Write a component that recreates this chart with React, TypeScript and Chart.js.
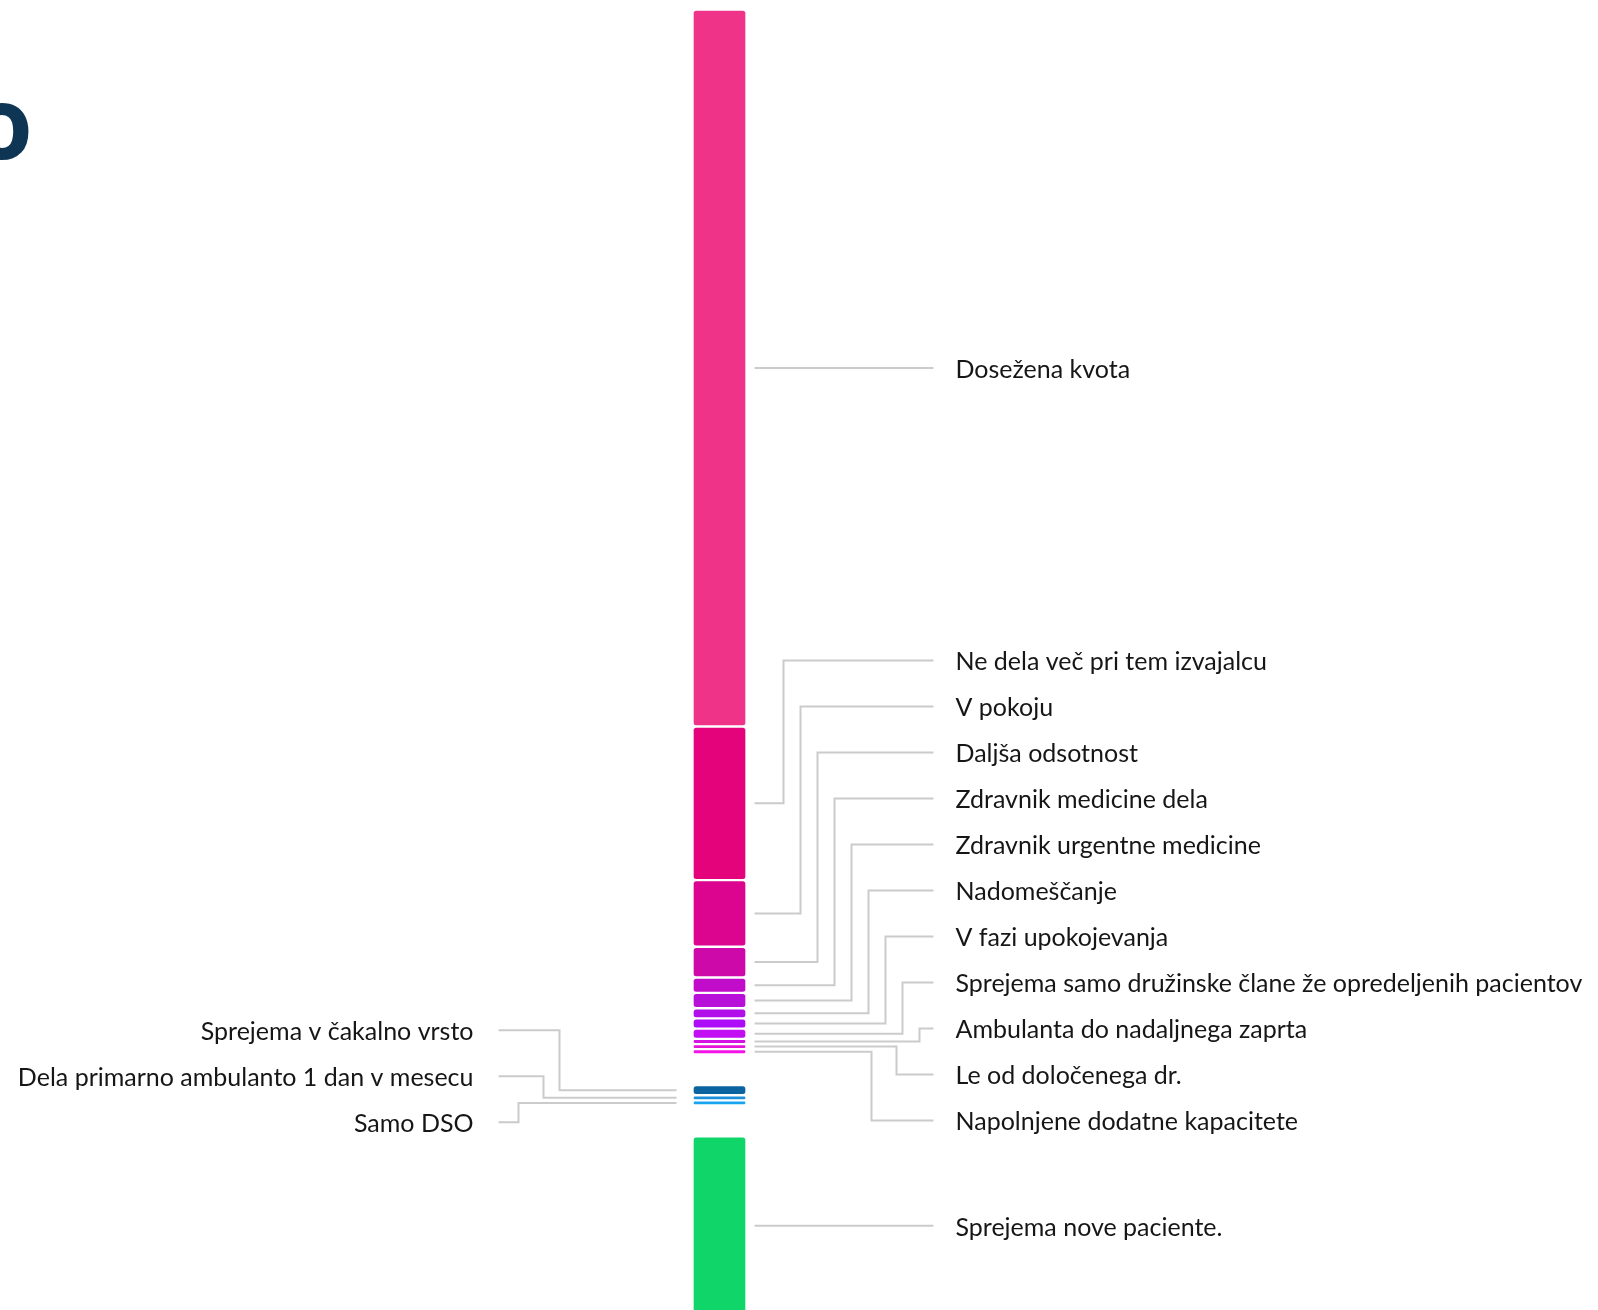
import React, { useEffect, useRef } from 'react';
import { Chart, registerables } from 'chart.js';

Chart.register(...registerables);

// ---------- data ----------
const categories = ['Ambulante'];

const seriesNames = [
  'Dosežena kvota',
  'Ne dela več pri tem izvajalcu',
  'V pokoju',
  'Daljša odsotnost',
  'Zdravnik medicine dela',
  'Zdravnik urgentne medicine',
  'Nadomeščanje',
  'V fazi upokojevanja',
  'Sprejema samo družinske člane že opredeljenih pacientov',
  'Ambulanta do nadaljnega zaprta',
  'Le od določenega dr.',
  'Napolnjene dodatne kapacitete',
  'Sprejema v čakalno vrsto',
  'Dela primarno ambulanto 1 dan v mesecu',
  'Samo DSO',
  'Sprejema nove paciente.',
];

const seriesValues = [140, 30, 13, 6, 3, 3, 2, 2, 2, 1, 1, 1, 2, 1, 1, 35];

// 0 = ne sprejema, 1 = delno, 2 = sprejema
const seriesGroups = [0, 0, 0, 0, 0, 0, 0, 0, 0, 0, 0, 0, 1, 1, 1, 2];

const titleText = 'o';

// ---------- styles / layout ----------
const palette = [
  '#ef3388', '#e4037b', '#db0590', '#cd09aa', '#c10dc9', '#b80fd9',
  '#b10ee9', '#ad0cf6', '#c20ef2', '#d611e4', '#e513d8', '#f214e6',
  '#0b64a0', '#1c8fd8', '#17a5f1', '#10d66a',
];
const GROUP_SIDE = ['right', 'left', 'right'];
const GROUP_GAP = 6;
const LABEL_SPACING = 46;
const FONT_SIZE = 25;
const FONT_FAMILY = 'Lato, "Open Sans", sans-serif';
const LINE_COLOR = '#cbcbcb';
const ELBOWS: any = {
  right: { upBase: 14, upStep: 17, downBase: 37, downStep: 25 },
  left: { upBase: 45, upStep: 16, downBase: 20, downStep: 25 },
};

const CANVAS_W = 1598;
const CANVAS_H = 1330;

const leaderPlugin = {
  id: 'leaders',
  afterDatasetsDraw(chart: any) {
    const ctx: CanvasRenderingContext2D = chart.ctx;
    const items: any[] = [];
    chart.data.datasets.forEach((ds: any, i: number) => {
      if (ds.isSpacer) return;
      const el = chart.getDatasetMeta(i).data[0];
      if (!el) return;
      const p = el.getProps(['x', 'y', 'base', 'width'], true);
      const top = Math.min(p.y, p.base);
      const bottom = Math.max(p.y, p.base);
      items.push({
        label: ds.label,
        side: ds.side,
        group: ds.group,
        value: ds.data[0],
        top,
        bottom,
        anchor: (top + bottom) / 2,
        left: p.x - p.width / 2,
        right: p.x + p.width / 2,
        labelY: 0,
        elbow: 0,
      });
    });

    const lastGroup = Math.max(...items.map((it) => it.group));
    const floorY = Math.min(...items.filter((it) => it.group === lastGroup).map((it) => it.top)) - 14;

    ['left', 'right'].forEach((side) => {
      const list = items.filter((it) => it.side === side).sort((a, b) => a.anchor - b.anchor);
      const place = (c: any) => {
        const wsum = c.items.reduce((s: number, it: any) => s + it.value, 0);
        let center = c.items.reduce((s: number, it: any) => s + it.anchor * it.value, 0) / wsum;
        const n = c.items.length;
        const last = center + ((n - 1) / 2) * LABEL_SPACING;
        if (c.items[0].group !== lastGroup && last > floorY) center -= last - floorY;
        c.items.forEach((it: any, k: number) => {
          it.labelY = center + (k - (n - 1) / 2) * LABEL_SPACING;
        });
      };
      let clusters = list.map((it) => ({ items: [it] }));
      clusters.forEach(place);
      let merged = true;
      while (merged) {
        merged = false;
        for (let k = 0; k < clusters.length - 1; k++) {
          const a = clusters[k];
          const b = clusters[k + 1];
          const aLast = a.items[a.items.length - 1].labelY;
          const bFirst = b.items[0].labelY;
          if (bFirst - aLast < LABEL_SPACING - 0.01) {
            const c = { items: [...a.items, ...b.items] };
            place(c);
            clusters.splice(k, 2, c);
            merged = true;
            break;
          }
        }
      }
      const e = ELBOWS[side];
      const ups = list.filter((it) => it.labelY < it.anchor - 0.5).sort((a, b) => b.labelY - a.labelY);
      ups.forEach((it, r) => (it.elbow = e.upBase + r * e.upStep));
      const downs = list.filter((it) => it.labelY > it.anchor + 0.5).sort((a, b) => a.labelY - b.labelY);
      downs.forEach((it, r) => (it.elbow = e.downBase + r * e.downStep));
    });

    ctx.save();
    ctx.strokeStyle = LINE_COLOR;
    ctx.lineWidth = 2;
    ctx.lineJoin = 'miter';
    ctx.font = `${FONT_SIZE}px ${FONT_FAMILY}`;
    ctx.fillStyle = '#161616';
    ctx.textBaseline = 'alphabetic';
    items.forEach((it) => {
      const straight = Math.abs(it.labelY - it.anchor) <= 0.5;
      ctx.beginPath();
      if (it.side === 'right') {
        const start = it.right + 8;
        const end = it.right + 187;
        ctx.moveTo(start, it.anchor);
        if (straight) {
          ctx.lineTo(end, it.anchor);
        } else {
          const ex = end - it.elbow;
          ctx.lineTo(ex, it.anchor);
          ctx.lineTo(ex, it.labelY);
          ctx.lineTo(end, it.labelY);
        }
        ctx.stroke();
        ctx.textAlign = 'left';
        ctx.fillText(it.label, end + 22, it.labelY + 10);
      } else {
        const start = it.left - 16;
        const end = it.left - 194;
        ctx.moveTo(start, it.anchor);
        if (straight) {
          ctx.lineTo(end, it.anchor);
        } else {
          const ex = end + it.elbow;
          ctx.lineTo(ex, it.anchor);
          ctx.lineTo(ex, it.labelY);
          ctx.lineTo(end, it.labelY);
        }
        ctx.stroke();
        ctx.textAlign = 'right';
        ctx.fillText(it.label, end - 25, it.labelY + 10);
      }
    });
    ctx.restore();
  },
  afterDraw(chart: any) {
    const ctx: CanvasRenderingContext2D = chart.ctx;
    ctx.save();
    ctx.font = 'bold 100px "Open Sans", sans-serif';
    ctx.fillStyle = '#0e3553';
    ctx.textAlign = 'right';
    ctx.textBaseline = 'alphabetic';
    ctx.fillText(titleText, 33, 159);
    ctx.restore();
  },
};

export default function App() {
  const canvasRef = useRef<HTMLCanvasElement | null>(null);

  useEffect(() => {
    if (!canvasRef.current) return;
    const datasets: any[] = [];
    seriesNames.forEach((name, i) => {
      if (i > 0 && seriesGroups[i] !== seriesGroups[i - 1]) {
        datasets.push({
          label: '',
          isSpacer: true,
          data: [GROUP_GAP],
          backgroundColor: 'rgba(0,0,0,0)',
          borderWidth: 0,
          barThickness: 54,
        });
      }
      datasets.push({
        label: name,
        side: GROUP_SIDE[seriesGroups[i]],
        group: seriesGroups[i],
        data: [seriesValues[i]],
        backgroundColor: palette[i],
        borderColor: '#ffffff',
        borderWidth: 1.5,
        borderSkipped: false,
        borderRadius: { topLeft: 4, topRight: 4, bottomLeft: 4, bottomRight: 4 },
        barThickness: 54,
      });
    });
    const total = datasets.reduce((s, d) => s + d.data[0], 0);

    const chart = new Chart(canvasRef.current, {
      type: 'bar',
      data: { labels: categories, datasets },
      options: {
        animation: false,
        responsive: false,
        maintainAspectRatio: false,
        layout: { padding: { top: 9.5, bottom: CANVAS_H - 1315.5, left: 0, right: 159 } },
        plugins: { legend: { display: false }, tooltip: { enabled: false }, title: { display: false } },
        scales: {
          x: { display: false, stacked: true, grid: { display: false } },
          y: { display: false, stacked: true, reverse: true, min: 0, max: total, grid: { display: false } },
        },
      } as any,
      plugins: [leaderPlugin],
    });
    return () => chart.destroy();
  }, []);

  return (
    <div
      style={{
        position: 'fixed',
        left: 0,
        top: 0,
        width: CANVAS_W,
        height: 1310,
        overflow: 'hidden',
        background: '#ffffff',
      }}
    >
      <canvas
        ref={canvasRef}
        width={CANVAS_W}
        height={CANVAS_H}
        style={{ display: 'block', width: CANVAS_W, height: CANVAS_H }}
      />
    </div>
  );
}
